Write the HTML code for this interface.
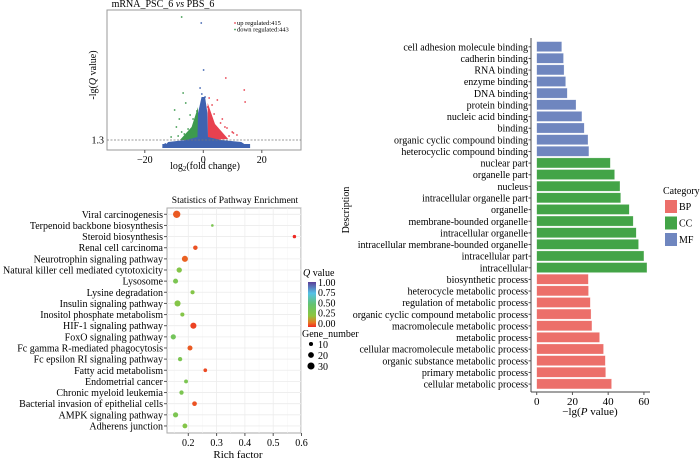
<!DOCTYPE html>
<html><head><meta charset="utf-8"><style>
body{margin:0;background:#fff}
svg{display:block;font-family:"Liberation Serif",serif}
</style></head><body>
<svg id="fig" width="700" height="461" viewBox="0 0 700 461" xmlns="http://www.w3.org/2000/svg">
<g id="volcano"></g>
<g id="bubble"></g>
<g id="bars"></g>
</svg>
<script>
// ---------- volcano data ----------
const volcTicks=[-20,0,20];
const greenPts=[[-7.4,13.6],[-6.9,6.0],[-9.8,4.3],[-8.2,3.4],[-6.0,5.0],[-4.5,3.8],[-9.2,2.6],[-7.4,2.1],[-2.8,2.9],[-5.2,2.4],[-3.5,3.4],[-6.5,1.9],[-4.0,2.0],[-2.2,4.2],[-8.6,1.7],[-11,1.6]];
const redPts=[[7.7,7.5],[14,6.3],[14.3,5.1],[1.5,4.6],[3.7,3.9],[5.9,3.0],[8.1,2.5],[9.9,2.1],[4.8,5.3],[7.4,2.6],[10.3,2.0],[2.6,2.8],[3.0,4.8],[6.5,3.4],[4.2,2.2],[11.5,1.8],[8.8,1.7],[2.0,5.5]];
const bluePts=[[-0.7,13],[0.1,8.3],[-1.1,6.5],[-0.5,5.9],[0.6,5.6],[-13,0.9],[15,0.7],[12,0.9]];
const blueCore=[[-14,0.5],[-12,1.1],[-6,1.3],[-2,1.6],[-1.8,4],[-0.6,5.6],[0.6,5.6],[1.4,4],[1.6,1.6],[6,1.3],[13,1.1],[16,0.5]];
const greenFan=[[-8,1.3],[-4,2.6],[-1.8,4.6],[-1.8,1.3]];
const redFan=[[1.5,1.3],[1.5,5.0],[4,2.9],[8.5,1.4]];
// ---------- bubble data ----------
const pathways=["Viral carcinogenesis","Terpenoid backbone biosynthesis","Steroid biosynthesis","Renal cell carcinoma","Neurotrophin signaling pathway","Natural killer cell mediated cytotoxicity","Lysosome","Lysine degradation","Insulin signaling pathway","Inositol phosphate metabolism","HIF-1 signaling pathway","FoxO signaling pathway","Fc gamma R-mediated phagocytosis","Fc epsilon RI signaling pathway","Fatty acid metabolism","Endometrial cancer","Chronic myeloid leukemia","Bacterial invasion of epithelial cells","AMPK signaling pathway","Adherens junction"];
const richFactor=[0.159,0.285,0.575,0.225,0.188,0.168,0.155,0.215,0.162,0.179,0.218,0.147,0.206,0.171,0.26,0.192,0.176,0.222,0.155,0.188];
const qValue=[0.06,0.35,0.0,0.05,0.07,0.3,0.35,0.3,0.3,0.3,0.03,0.4,0.06,0.35,0.04,0.35,0.35,0.05,0.35,0.3];
const geneNumber=[32,4,7,12,22,17,15,10,22,10,22,16,15,11,8,9,11,13,16,14];
const richTicks=[0.2,0.3,0.4,0.5,0.6];
const qTicks=["1.00","0.75","0.50","0.25","0.00"];
const sizeTicks=[10,20,30];
// ---------- bar data ----------
const terms=["cell adhesion molecule binding","cadherin binding","RNA binding","enzyme binding","DNA binding","protein binding","nucleic acid binding","binding","organic cyclic compound binding","heterocyclic compound binding","nuclear part","organelle part","nucleus","intracellular organelle part","organelle","membrane-bounded organelle","intracellular organelle","intracellular membrane-bounded organelle","intracellular part","intracellular","biosynthetic process","heterocycle metabolic process","regulation of metabolic process","organic cyclic compound metabolic process","macromolecule metabolic process","metabolic process","cellular macromolecule metabolic process","organic substance metabolic process","primary metabolic process","cellular metabolic process"];
const pValues=[14,15,15.3,16.2,17.1,22,25.3,26.6,28.7,29.2,41.2,43.6,46.6,47,51.8,54,55.7,57,60,61.7,28.9,29,30,30.4,30.9,35.2,37.4,38.4,38.6,41.9];
const categories=["MF","MF","MF","MF","MF","MF","MF","MF","MF","MF","CC","CC","CC","CC","CC","CC","CC","CC","CC","CC","BP","BP","BP","BP","BP","BP","BP","BP","BP","BP"];
const barTicks=[0,20,40,60];
const legendCats=["BP","CC","MF"];

const NS="http://www.w3.org/2000/svg";
function mk(parent,tag,attrs,text){const e=document.createElementNS(NS,tag);for(const k in attrs)e.setAttribute(k,attrs[k]);if(text!==undefined)e.textContent=text;parent.appendChild(e);return e;}

// ===== Volcano =====
(function(){
const g=document.getElementById('volcano');
const L=107,R=301,T=10,B=150;
const xs=v=>203.3+v*2.925, ys=v=>140-(v-1.3)*10;
let e=mk(g,'rect',{x:L,y:T,width:R-L,height:B-T,fill:'#fff',stroke:'#999','stroke-width':1});

const poly=(arr,fill,name)=>{const p=mk(g,'polygon',{points:arr.map(d=>xs(d[0])+','+ys(d[1])).join(' '),fill:fill});
};
poly(greenFan,'#3d9a4e','down-regulated-dense');
poly(redFan,'#e8414f','up-regulated-dense');
poly(blueCore,'#3f63b0','non-significant-dense');
const pts=(arr,fill,name)=>arr.forEach(d=>{const c=mk(g,'circle',{cx:xs(d[0]),cy:ys(d[1]),r:0.9,fill:fill});
});
pts(greenPts,'#3d9a4e','down-point');pts(redPts,'#e8414f','up-point');pts(bluePts,'#3f63b0','ns-point');
e=mk(g,'rect',{x:xs(-14),y:ys(0.9),width:xs(16)-xs(-14),height:ys(0.5)-ys(0.9),fill:'#3f63b0'});

e=mk(g,'line',{x1:L,x2:R,y1:ys(1.3),y2:ys(1.3),stroke:'#777','stroke-dasharray':'2,1.5','stroke-width':0.8});

e=mk(g,'text',{x:104,y:ys(1.3)+3.5,'font-size':10,'text-anchor':'end'},'1.3');

volcTicks.forEach(t=>{const x=xs(t);mk(g,'line',{x1:x,x2:x,y1:B,y2:B+3,stroke:'#555'});
const tx=mk(g,'text',{x:x,y:B+13,'font-size':10,'text-anchor':'middle'},t===0?'0':(t<0?'−'+(-t):t));
});
e=mk(g,'text',{x:163,y:7,'font-size':10,'text-anchor':'middle'});e.innerHTML='mRNA_PSC_6 <tspan font-style="italic">vs</tspan> PBS_6';

e=mk(g,'text',{x:205,y:169,'font-size':10,'text-anchor':'middle'});e.innerHTML='log<tspan font-size="7" dy="2">2</tspan><tspan dy="-2">(fold change)</tspan>';

e=mk(g,'text',{x:0,y:0,'font-size':10,'text-anchor':'middle',transform:'translate(96,75) rotate(-90)'});e.innerHTML='-lg(<tspan font-style="italic">Q</tspan> value)';

mk(g,'circle',{cx:235,cy:23,r:0.9,fill:'#e8414f'});mk(g,'circle',{cx:235,cy:29.5,r:0.9,fill:'#3d9a4e'});
e=mk(g,'text',{x:237,y:25,'font-size':6.5},'up regulated:415');
e=mk(g,'text',{x:237,y:31.5,'font-size':6.5},'down regulated:443');
})();

// ===== Bubble =====
function qColor(q){const st=[[0,[238,42,36]],[0.1,[232,122,34]],[0.25,[140,198,63]],[0.5,[100,195,110]],[0.75,[84,193,230]],[1,[91,63,153]]];
for(let i=1;i<st.length;i++){if(q<=st[i][0]){const a=st[i-1],b=st[i],t=(q-a[0])/(b[0]-a[0]);
return 'rgb('+a[1].map((v,k)=>Math.round(v+(b[1][k]-v)*t)).join(',')+')';}}return 'rgb(91,63,153)';}
(function(){
const g=document.getElementById('bubble');
const L=167,R=301,T=208,B=433;
const xs=v=>188.3+(v-0.2)*283, ys=i=>214.3+i*11.14, rs=n=>0.65*Math.sqrt(n);
let e=mk(g,'rect',{x:L,y:T,width:R-L,height:B-T,fill:'#fff',stroke:'#aaa','stroke-width':1});

richTicks.forEach(t=>{mk(g,'line',{x1:xs(t),x2:xs(t),y1:T,y2:B,stroke:'#ececec','stroke-width':0.8});
mk(g,'line',{x1:xs(t-0.05),x2:xs(t-0.05),y1:T,y2:B,stroke:'#f5f5f5','stroke-width':0.5});});
pathways.forEach((p,i)=>{mk(g,'line',{x1:L,x2:R,y1:ys(i),y2:ys(i),stroke:'#ececec','stroke-width':0.8});
mk(g,'line',{x1:L-3,x2:L,y1:ys(i),y2:ys(i),stroke:'#555'});
const t=mk(g,'text',{x:L-4,y:ys(i)+3.5,'font-size':10,'text-anchor':'end'},p);
});
pathways.forEach((p,i)=>{const c=mk(g,'circle',{cx:xs(richFactor[i]),cy:ys(i),r:rs(geneNumber[i]),fill:qColor(qValue[i])});
});
richTicks.forEach(t=>{mk(g,'line',{x1:xs(t),x2:xs(t),y1:B,y2:B+3,stroke:'#555'});
const tx=mk(g,'text',{x:xs(t),y:B+13,'font-size':10,'text-anchor':'middle'},String(t));
});
e=mk(g,'text',{x:235,y:203,'font-size':9.5,'text-anchor':'middle'},'Statistics of Pathway Enrichment');

e=mk(g,'text',{x:238,y:458,'font-size':11,'text-anchor':'middle'},'Rich factor');

e=mk(g,'text',{x:303,y:276,'font-size':10});e.innerHTML='<tspan font-style="italic">Q</tspan> value';

const defs=mk(g,'defs',{});const lg=mk(defs,'linearGradient',{id:'qg',x1:0,y1:1,x2:0,y2:0});
[0,0.1,0.25,0.5,0.75,1].forEach(s=>mk(lg,'stop',{offset:s,'stop-color':qColor(s)}));
e=mk(g,'rect',{x:308,y:282,width:8,height:45,fill:'url(#qg)'});

qTicks.forEach((q,i)=>{const tx=mk(g,'text',{x:318,y:286+i*10.2,'font-size':10},q);
});
e=mk(g,'text',{x:302,y:337,'font-size':10},'Gene_number');

sizeTicks.forEach((n,i)=>{mk(g,'circle',{cx:311,cy:344+i*11,r:rs(n),fill:'#000'});
const tx=mk(g,'text',{x:318,y:348+i*11,'font-size':10},String(n));
});
})();

// ===== Bars =====
(function(){
const g=document.getElementById('bars');
const X0=536.7, xs=v=>X0+v*1.787, step=11.63, ys=i=>41+i*step, AX=531, B=392;
const col={BP:'#ec6f6a',CC:'#43a447',MF:'#6f86bf'};
terms.forEach((t,i)=>{const r=mk(g,'rect',{x:xs(0),y:ys(i)+0.6,width:xs(pValues[i])-xs(0),height:step-1.6,fill:col[categories[i]],stroke:'#fff','stroke-opacity':0.5,'stroke-width':0.5});

mk(g,'line',{x1:AX-2.5,x2:AX,y1:ys(i)+step/2,y2:ys(i)+step/2,stroke:'#555'});
const tx=mk(g,'text',{x:AX-3,y:ys(i)+step/2+3.5,'font-size':10,'text-anchor':'end'},t);
});
mk(g,'line',{x1:AX,x2:AX,y1:38,y2:B,stroke:'#444','stroke-width':1});
mk(g,'line',{x1:AX,x2:650,y1:B,y2:B,stroke:'#444','stroke-width':1});
barTicks.forEach(t=>{mk(g,'line',{x1:xs(t),x2:xs(t),y1:B,y2:B+3,stroke:'#555'});
const tx=mk(g,'text',{x:xs(t),y:B+13,'font-size':11,'text-anchor':'middle'},String(t));
});
let e=mk(g,'text',{x:590,y:415,'font-size':11,'text-anchor':'middle'});e.innerHTML='−lg(<tspan font-style="italic">P</tspan> value)';

e=mk(g,'text',{x:0,y:0,'font-size':10,'text-anchor':'middle',transform:'translate(349,210) rotate(-90)'},'Description');

e=mk(g,'text',{x:663,y:194,'font-size':10},'Category');

legendCats.forEach((c,i)=>{const r=mk(g,'rect',{x:665,y:200+i*16.5,width:12,height:13,fill:col[c]});

const tx=mk(g,'text',{x:679,y:210+i*16.5,'font-size':10},c);
});
})();
</script>
</body></html>
